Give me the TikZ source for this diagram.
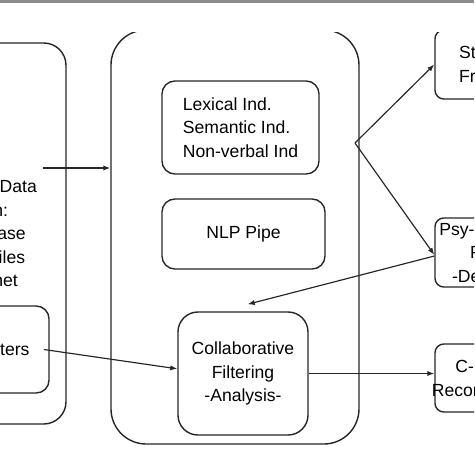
\documentclass[tikz,border=0pt]{standalone}
\usepackage{fontspec}
\setmainfont{Liberation Sans}
\usetikzlibrary{arrows.meta}

\begin{document}
\begin{tikzpicture}[
  x=0.03cm, y=-0.03cm,
  font=\fontsize{15}{20}\selectfont,
  box/.style={draw=black!85, line width=1.2pt, rounded corners=11pt, align=center, inner sep=2pt},
  arrow/.style={-{Latex[length=6pt,width=4.5pt]}, line width=1pt, draw=black!85}
]
\useasboundingbox (0,0) rectangle (474,474);
\fill[black!45] (0,0) rectangle (474,2.5);

\begin{scope}
\clip (0,32.5) rectangle (474,474);

\node[box, rounded corners=19pt, minimum width=4.68cm, minimum height=11.43cm] (src) at (-12,233.5)
  {Textual Data\\Plan:\\Database\\Text Files\\Internet};
\node[box, minimum width=2.99cm, minimum height=2.61cm] (twit) at (-0.8,349.5) {Twitters};

\node[box, rounded corners=30pt, minimum width=7.44cm, minimum height=12.42cm] (mid) at (235,237) {};
\node[box, align=left, minimum width=4.71cm, minimum height=2.79cm] (lex) at (240.5,127.5)
  {Lexical Ind.\\Semantic Ind.\\Non-verbal Ind};
\node[box, minimum width=4.89cm, minimum height=2.1cm] (nlp) at (243.5,234) {NLP Pipe};
\node[box, rounded corners=17pt, minimum width=3.9cm, minimum height=3.69cm] (collab) at (243,373.5)
  {Collaborative\\Filtering\\-Analysis-};

\node[box, rounded corners=7.5pt, align=left, minimum width=4.08cm, minimum height=2.07cm] (trbox) at (503,64.5)
  {Stress\\Framework};
\node[box, rounded corners=7.5pt, minimum width=3.6cm, minimum height=2.07cm] (psy) at (495,252.5)
  {Psy-emotional\\Profile\\-Detection-};
\node[box, rounded corners=7.5pt, inner xsep=-4pt, minimum width=3.27cm, minimum height=2.04cm] (cbox) at (489.5,378)
  {C-Based\\Recommender};

\coordinate (srcout) at (43,168);
\coordinate (fork) at (355,143);

\draw[arrow] (srcout) -- (srcout -| mid.west);
\draw[arrow] ([xshift=-5pt]twit.east) -- ([yshift=4pt]collab.west);
\draw[arrow] (fork) -- (trbox.west);
\draw[arrow] (fork) -- ([yshift=-2pt]psy.west);
\draw[arrow] ([yshift=-3pt]psy.west) -- ([xshift=4pt,yshift=6pt]collab.north);
\draw[arrow] (collab.east) -- (collab.east -| cbox.west);
\end{scope}
\end{tikzpicture}
\end{document}
